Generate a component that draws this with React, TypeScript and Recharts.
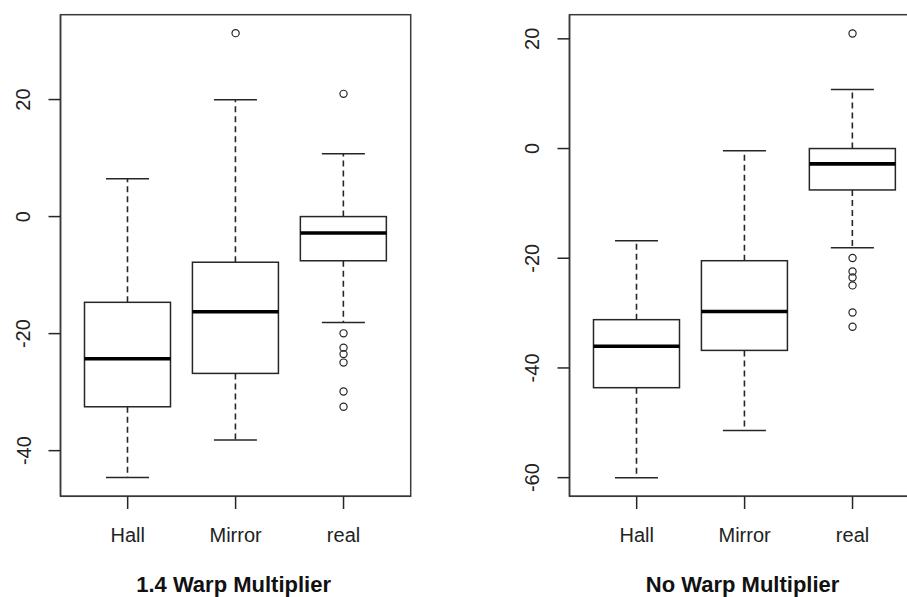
import React from 'react';
import { ComposedChart, Bar, Scatter, XAxis, YAxis, ReferenceArea } from 'recharts';

// Groups shown on both panels
const categories = ['Hall', 'Mirror', 'real'];

// 1.4 warp multiplier: five-number summaries per group
const warp14Lower = [-44.6, -38.2, -18.1];
const warp14Q1 = [-32.5, -26.8, -7.55];
const warp14Median = [-24.3, -16.25, -2.8];
const warp14Q3 = [-14.65, -7.8, 0];
const warp14Upper = [6.45, 19.95, 10.75];
const warp14Outliers = [[], [31.35], [20.97, -19.95, -22.4, -23.5, -24.95, -29.9, -32.5]];
const warp14Ticks = [-40, -20, 0, 20];
const warp14Domain = [-47.8, 34.5];

// No warp multiplier: five-number summaries per group
const noWarpLower = [-60, -51.4, -18.1];
const noWarpQ1 = [-43.6, -36.8, -7.55];
const noWarpMedian = [-36.05, -29.7, -2.8];
const noWarpQ3 = [-31.2, -20.45, 0];
const noWarpUpper = [-16.8, -0.4, 10.75];
const noWarpOutliers = [[], [], [20.97, -19.95, -22.4, -23.5, -24.95, -29.9, -32.5]];
const noWarpTicks = [-60, -40, -20, 0, 20];
const noWarpDomain = [-63.4, 24.4];

const FONT = '"Liberation Sans", Arial, Helvetica, sans-serif';
const INK = '#262626';
const FRAME = '#3a3a3a';
const TEXT = '#222222';
const X_PAD = 13.2;

type BoxRow = { name: string; range: [number, number]; q1: number; median: number; q3: number };

function buildRows(lower: number[], q1: number[], median: number[], q3: number[], upper: number[]): BoxRow[] {
  return categories.map((name, i) => ({
    name,
    range: [lower[i], upper[i]],
    q1: q1[i],
    median: median[i],
    q3: q3[i],
  }));
}

function buildOutliers(outliers: number[][]) {
  const pts: { name: string; value: number }[] = [];
  outliers.forEach((vals, i) => vals.forEach((v) => pts.push({ name: categories[i], value: v })));
  return pts;
}

// Whole box-and-whisker glyph drawn over the whisker-to-whisker bar
const BoxShape = (props: any) => {
  const { x, y, width, height, payload } = props;
  if (!payload || x == null) return null;
  const [lo, hi] = payload.range;
  const top = Math.min(y, y + height);
  const bottom = Math.max(y, y + height);
  const px = (v: number) => bottom - ((v - lo) / (hi - lo)) * (bottom - top);
  const cx = x + width / 2;
  const cap = width / 4;
  const yQ1 = px(payload.q1);
  const yQ3 = px(payload.q3);
  const yMed = px(payload.median);
  return (
    <g>
      <line x1={cx} x2={cx} y1={yQ3} y2={top} stroke={INK} strokeWidth={1.6} strokeDasharray="6 4" />
      <line x1={cx} x2={cx} y1={yQ1} y2={bottom} stroke={INK} strokeWidth={1.6} strokeDasharray="6 4" />
      <line x1={cx - cap} x2={cx + cap} y1={top} y2={top} stroke={INK} strokeWidth={1.5} />
      <line x1={cx - cap} x2={cx + cap} y1={bottom} y2={bottom} stroke={INK} strokeWidth={1.5} />
      <rect x={x} y={yQ3} width={width} height={yQ1 - yQ3} fill="#ffffff" stroke={INK} strokeWidth={1.5} />
      <line x1={x} x2={x + width} y1={yMed} y2={yMed} stroke="#000000" strokeWidth={3.6} />
    </g>
  );
};

const OutlierDot = (props: any) => {
  const { cx, cy } = props;
  if (cx == null || cy == null) return null;
  return <circle cx={cx} cy={cy} r={3.6} fill="none" stroke={INK} strokeWidth={1.2} />;
};

// Plot frame: the area spans the padded category range, so widen it by the axis padding
const FrameShape = (props: any) => {
  const { x, y, width, height } = props;
  if (x == null) return null;
  return (
    <rect
      x={x - X_PAD}
      y={y}
      width={width + 2 * X_PAD}
      height={height}
      fill="none"
      stroke={FRAME}
      strokeWidth={1.5}
    />
  );
};

const YTick = (props: any) => {
  const { x, y, payload } = props;
  const bx = x - 18;
  return (
    <text
      x={bx}
      y={y}
      transform={`rotate(-90, ${bx}, ${y})`}
      textAnchor="middle"
      fontFamily={FONT}
      fontSize={20}
      fill={TEXT}
    >
      {payload.value}
    </text>
  );
};

const XTick = (props: any) => {
  const { x, y, payload } = props;
  return (
    <text x={x} y={y + 32.5} textAnchor="middle" fontFamily={FONT} fontSize={20} fill={TEXT}>
      {payload.value}
    </text>
  );
};

type PanelProps = {
  rows: BoxRow[];
  outliers: { name: string; value: number }[];
  ticks: number[];
  domain: number[];
  title: string;
  left: number;
  width: number;
  yAxisWidth: number;
  marginRight: number;
};

function Panel({ rows, outliers, ticks, domain, title, left, width, yAxisWidth, marginRight }: PanelProps) {
  const renderTitle = (p: any) => {
    const vb = p.viewBox || {};
    return (
      <text
        x={vb.x + vb.width / 2 - 2}
        y={vb.y + 95.4}
        textAnchor="middle"
        fontFamily={FONT}
        fontSize={22}
        fontWeight="bold"
        fill="#111111"
      >
        {title}
      </text>
    );
  };
  return (
    <div style={{ position: 'absolute', left, top: 0 }}>
      <ComposedChart
        width={width}
        height={597}
        data={rows}
        margin={{ top: 14.7, right: marginRight, bottom: 0, left: 0 }}
        barCategoryGap="10%"
      >
        <XAxis
          dataKey="name"
          type="category"
          allowDuplicatedCategory={false}
          height={100.7}
          padding={{ left: X_PAD, right: X_PAD }}
          axisLine={{ stroke: FRAME, strokeWidth: 1.5 }}
          tickLine={{ stroke: INK, strokeWidth: 1.5 }}
          tickSize={12.7}
          tickMargin={0}
          tick={<XTick />}
          interval={0}
          label={{ value: title, content: renderTitle }}
        />
        <YAxis
          type="number"
          domain={domain}
          ticks={ticks}
          allowDataOverflow
          width={yAxisWidth}
          axisLine={{ stroke: FRAME, strokeWidth: 1.5 }}
          tickLine={{ stroke: INK, strokeWidth: 1.5 }}
          tickSize={12}
          tickMargin={0}
          tick={<YTick />}
          interval={0}
        />
        <ReferenceArea
          y1={domain[0]}
          y2={domain[1]}
          ifOverflow="visible"
          shape={<FrameShape />}
        />
        <Bar dataKey="range" shape={<BoxShape />} isAnimationActive={false} />
        <Scatter data={outliers} dataKey="value" shape={<OutlierDot />} isAnimationActive={false} />
      </ComposedChart>
    </div>
  );
}

export default function App() {
  const warp14Rows = buildRows(warp14Lower, warp14Q1, warp14Median, warp14Q3, warp14Upper);
  const noWarpRows = buildRows(noWarpLower, noWarpQ1, noWarpMedian, noWarpQ3, noWarpUpper);
  return (
    <div
      style={{
        position: 'absolute',
        left: 0,
        top: 0,
        width: 907,
        height: 597,
        overflow: 'hidden',
        background: '#ffffff',
      }}
    >
      <Panel
        rows={warp14Rows}
        outliers={buildOutliers(warp14Outliers)}
        ticks={warp14Ticks}
        domain={warp14Domain}
        title="1.4 Warp Multiplier"
        left={0}
        width={453}
        yAxisWidth={60.5}
        marginRight={42.3}
      />
      <Panel
        rows={noWarpRows}
        outliers={buildOutliers(noWarpOutliers)}
        ticks={noWarpTicks}
        domain={noWarpDomain}
        title="No Warp Multiplier"
        left={453}
        width={480}
        yAxisWidth={116.5}
        marginRight={13.3}
      />
    </div>
  );
}
